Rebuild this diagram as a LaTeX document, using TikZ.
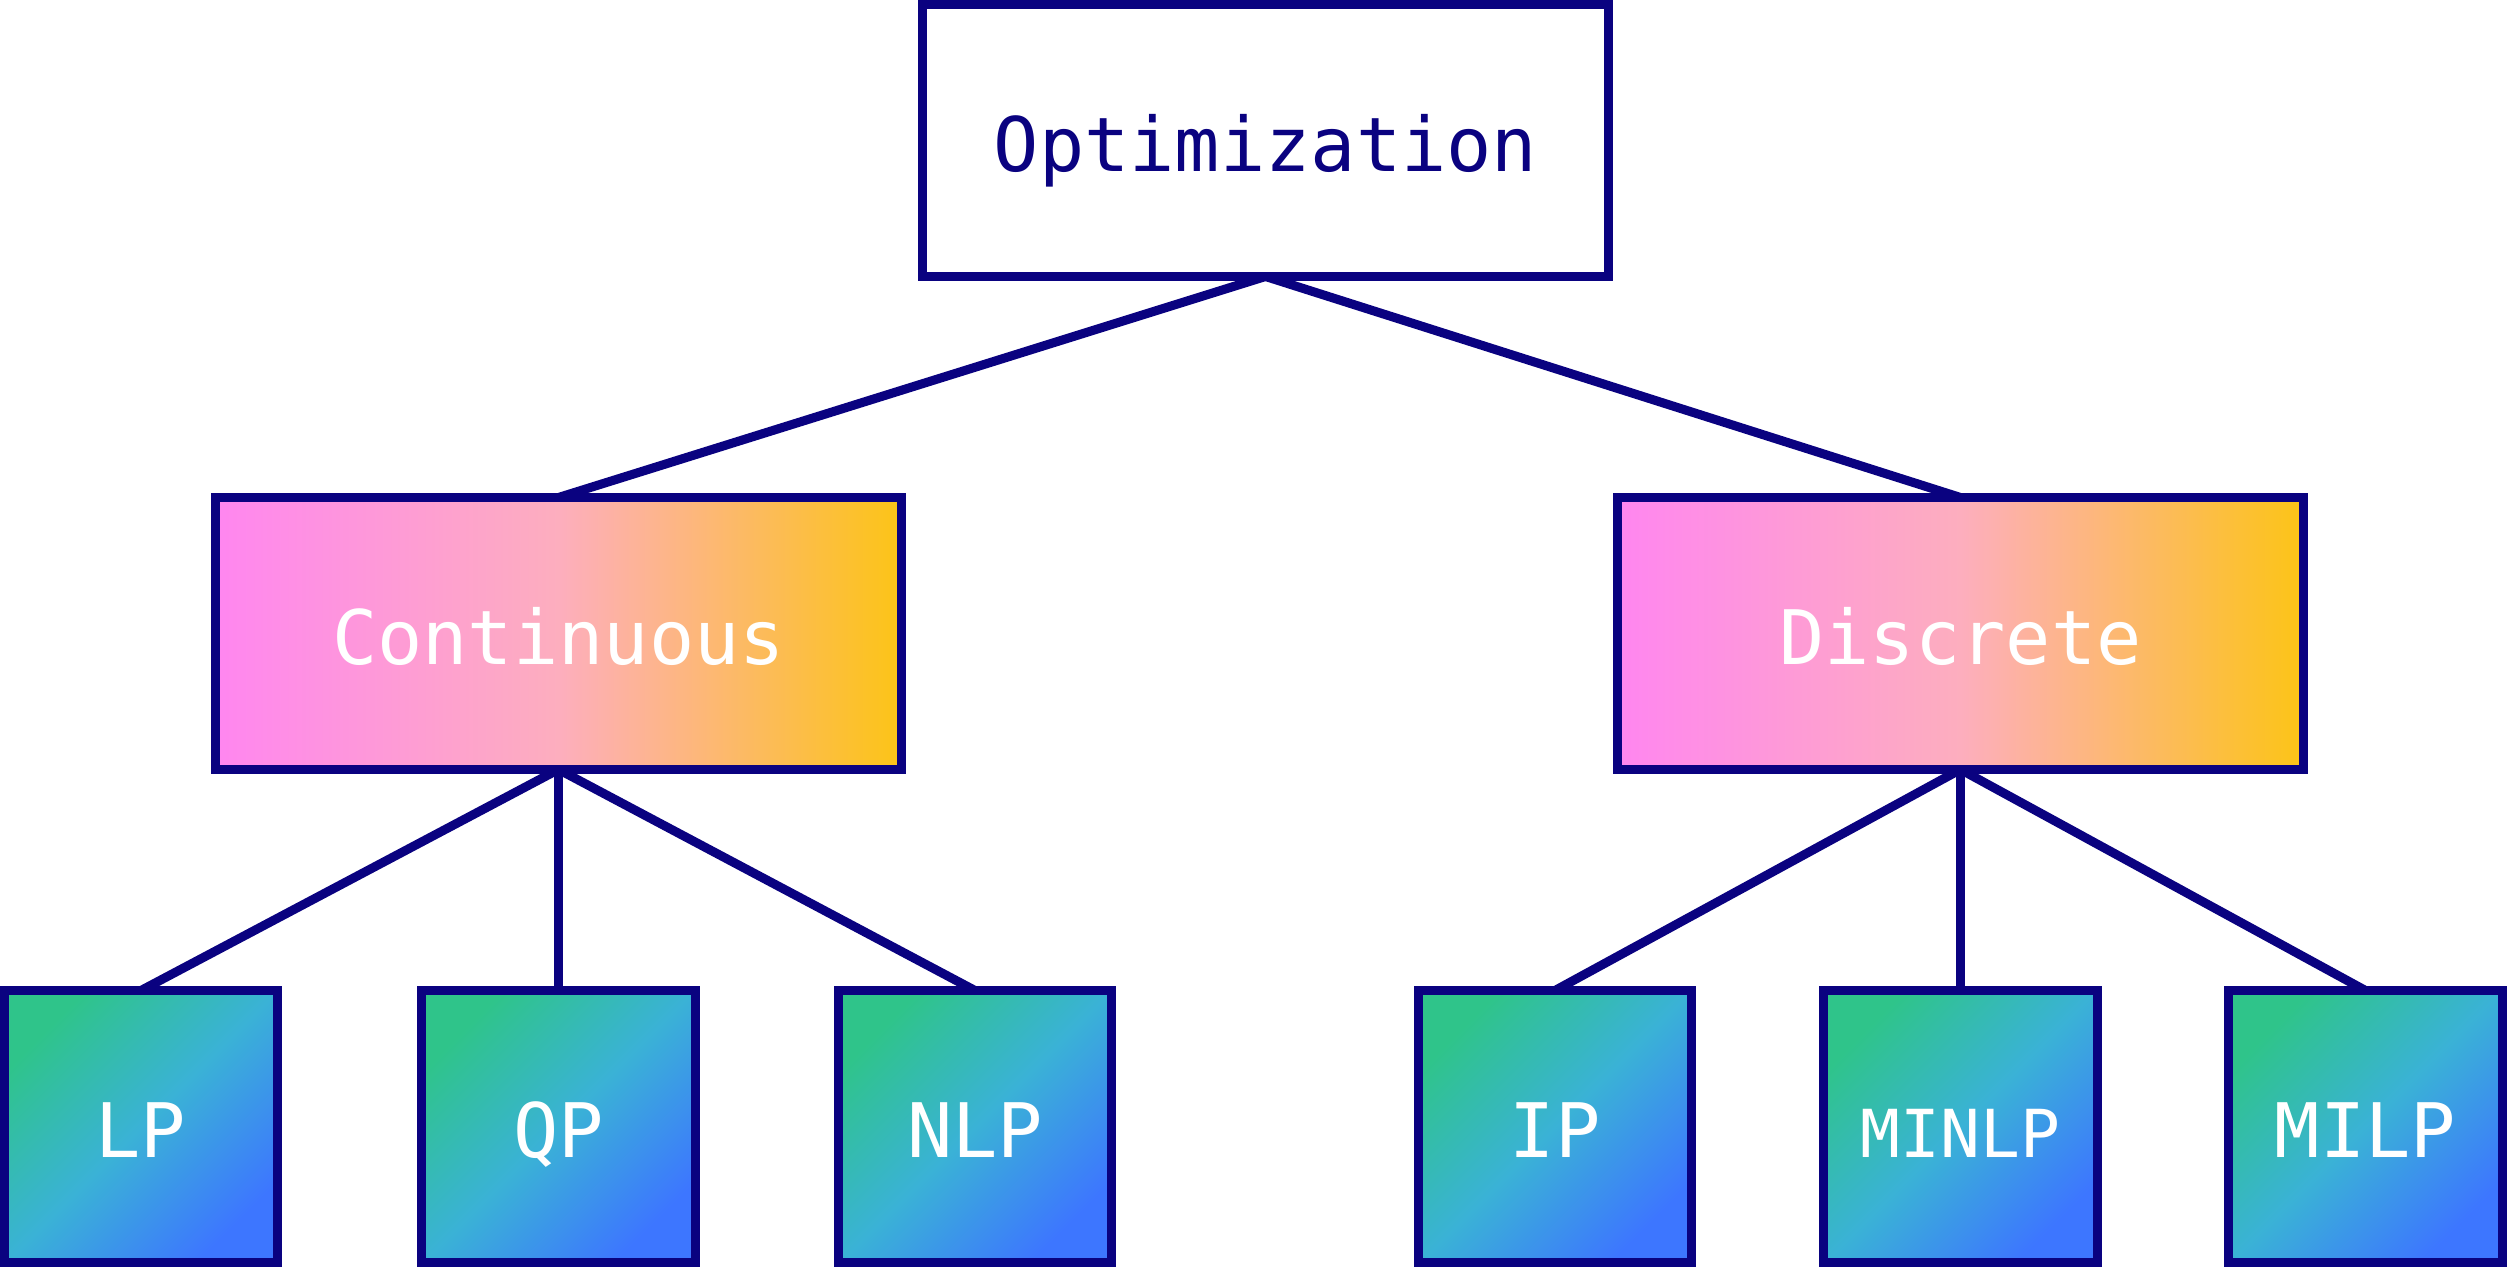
\documentclass[tikz,border=0pt]{standalone}
\usepackage{fontspec}
\setmonofont{DejaVu Sans Mono}
\usetikzlibrary{positioning}

\definecolor{navy}{RGB}{10,2,128}
\definecolor{pinkL}{RGB}{255,134,240}
\definecolor{pinkM}{RGB}{253,174,190}
\definecolor{yellowR}{RGB}{252,196,22}
\definecolor{greenTL}{RGB}{47,196,138}
\definecolor{cyanM}{RGB}{58,178,214}
\definecolor{blueBR}{RGB}{61,118,255}

\begin{document}
\begin{tikzpicture}[
    box/.style={draw=navy, line width=2.56pt, rectangle, align=center, outer sep=0pt,
        font=\ttfamily\fontsize{21.4}{25}\selectfont, text height=17.6pt, text depth=0pt},
    rootbox/.style={box, fill=white, text=navy, minimum width=6.86cm, minimum height=2.72cm},
    classbox/.style={box, text=white, minimum width=6.86cm, minimum height=2.72cm,
        left color=pinkL, right color=yellowR, middle color=pinkM},
    leafbox/.style={box, text=white, minimum width=2.735cm, minimum height=2.72cm,
        top color=greenTL, bottom color=blueBR, middle color=cyanM, shading angle=45},
    link/.style={draw=navy, line width=2.56pt},
    node distance=4.93cm
]
    \useasboundingbox (0,0) rectangle (25.07,12.67);

    % Raiz e classes
    \node[rootbox] (optim) at (12.655,11.265) {Optimization};
    \node[classbox, below of=optim, xshift=-7.07cm] (cont) {Continuous};
    \node[classbox, below of=optim, xshift=6.95cm] (disc) {Discrete};

    % Folhas
    \node[leafbox, below of=cont, xshift=-4.175cm] (lp) {LP};
    \node[leafbox, below of=cont] (qp) {QP};
    \node[leafbox, below of=cont, xshift=4.165cm] (nlp) {NLP};
    \node[leafbox, below of=disc, xshift=-4.055cm] (ip) {IP};
    \node[leafbox, below of=disc] (minlp) {\scalebox{0.88}{MINLP}};
    \node[leafbox, below of=disc, xshift=4.05cm] (milp) {MILP};

    % Ligações
    \draw[link] (optim.south) -- (cont.north);
    \draw[link] (optim.south) -- (disc.north);
    \foreach \leaf in {lp, qp, nlp}
        \draw[link] (cont.south) -- (\leaf.north);
    \foreach \leaf in {ip, minlp, milp}
        \draw[link] (disc.south) -- (\leaf.north);

\end{tikzpicture}
\end{document}
